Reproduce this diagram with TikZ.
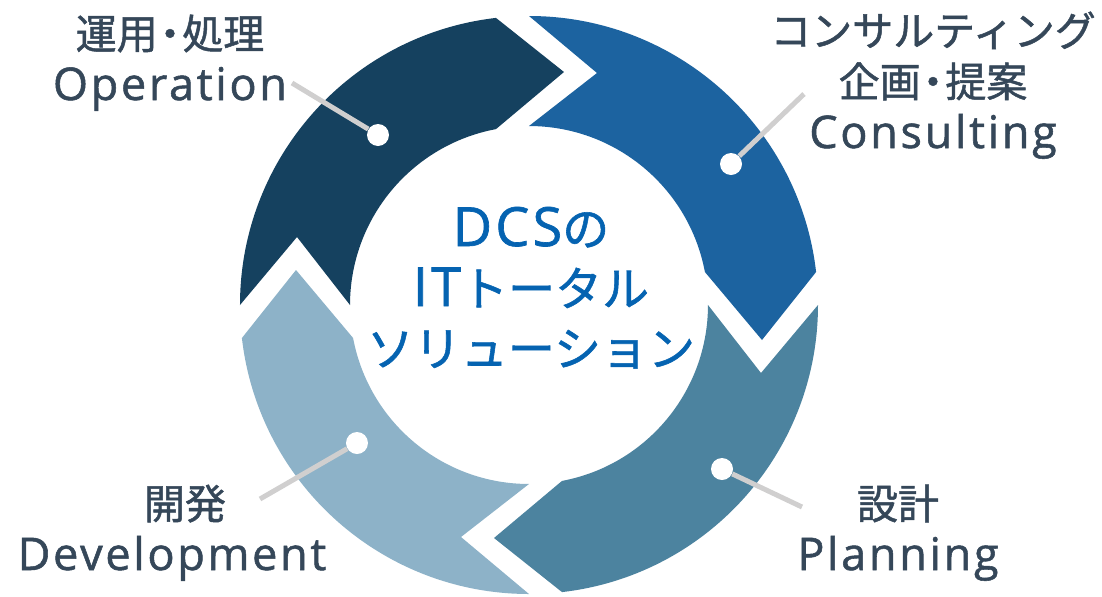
\documentclass[tikz,border=0pt]{standalone}
\usepackage{fontspec}
\setmainfont{Noto Sans CJK JP}[FakeBold=1.2]
\newfontfamily\latfont[LetterSpace=6,FakeBold=1.2]{Open Sans}
\definecolor{opcol}{HTML}{15415F}
\definecolor{conscol}{HTML}{1C63A0}
\definecolor{plancol}{HTML}{4C839F}
\definecolor{devcol}{HTML}{8DB2C8}
\definecolor{labcol}{HTML}{354759}
\definecolor{midcol}{HTML}{0563B1}
\definecolor{leadcol}{HTML}{D0CFCF}
\newcommand\lat[1]{{\latfont\fontsize{22.5}{25.5}\selectfont #1}}
\newcommand\latbig[1]{{\latfont\fontsize{27}{30}\selectfont #1}}
\newcommand\nakaguro{\kern-0.2em・\kern-0.2em}
\tikzset{
  dot/.style={circle, fill=white, inner sep=0pt, minimum size=11pt},
  leader/.style={leadcol, line width=2.5pt},
  label/.style={labcol, align=center, inner sep=0pt, anchor=base,
    font=\fontsize{20.5}{25.5}\selectfont},
}
\begin{document}
\begin{tikzpicture}[x=0.5pt,y=0.5pt]
\useasboundingbox (-529,305) rectangle (573,-291);
\fill[conscol] (0,289) arc[start angle=90, end angle=6.56, radius=289] -- (233,-35) -- (175.9,33) arc[start angle=10.63, end angle=90, radius=179] -- (68,232) -- cycle;
\fill[plancol, rotate=-90] (0,289) arc[start angle=90, end angle=6.56, radius=289] -- (233,-35) -- (175.9,33) arc[start angle=10.63, end angle=90, radius=179] -- (68,232) -- cycle;
\fill[devcol, rotate=180] (0,289) arc[start angle=90, end angle=6.56, radius=289] -- (233,-35) -- (175.9,33) arc[start angle=10.63, end angle=90, radius=179] -- (68,232) -- cycle;
\fill[opcol, rotate=90] (0,289) arc[start angle=90, end angle=6.56, radius=289] -- (233,-35) -- (175.9,33) arc[start angle=10.63, end angle=90, radius=179] -- (68,232) -- cycle;
\node[dot] (opdot) at (-151,170){};
\node[dot] (consdot) at (202,141){};
\node[dot] (plandot) at (193,-164){};
\node[dot] (devdot) at (-172,-138){};
\coordinate (opend) at (-237,222);
\coordinate (consend) at (275,211);
\coordinate (planend) at (273,-202);
\coordinate (devend) at (-269,-194);
\draw[leader](opend) -- (opdot);
\draw[leader](consend) -- (consdot);
\draw[leader](planend) -- (plandot);
\draw[leader](devend) -- (devdot);
\node[label] (oplab) at (-359,205){運用\nakaguro 処理\\\lat{Operation}};
\node[label] (conslab) at (404,157){コンサルティング\\企画\nakaguro 提案\\\lat{Consulting}};
\node[label] (planlab) at (369,-265){設計\\\lat{Planning}};
\node[label] (devlab) at (-357,-265){\hspace*{13pt}開発\\\lat{Development}};
\node[label, midcol, font=\fontsize{23.5}{30}\selectfont] (midlab) at (2,-61){\latbig{DCS}の\\\latbig{IT}トータル\\ソリューション};
\end{tikzpicture}
\end{document}
